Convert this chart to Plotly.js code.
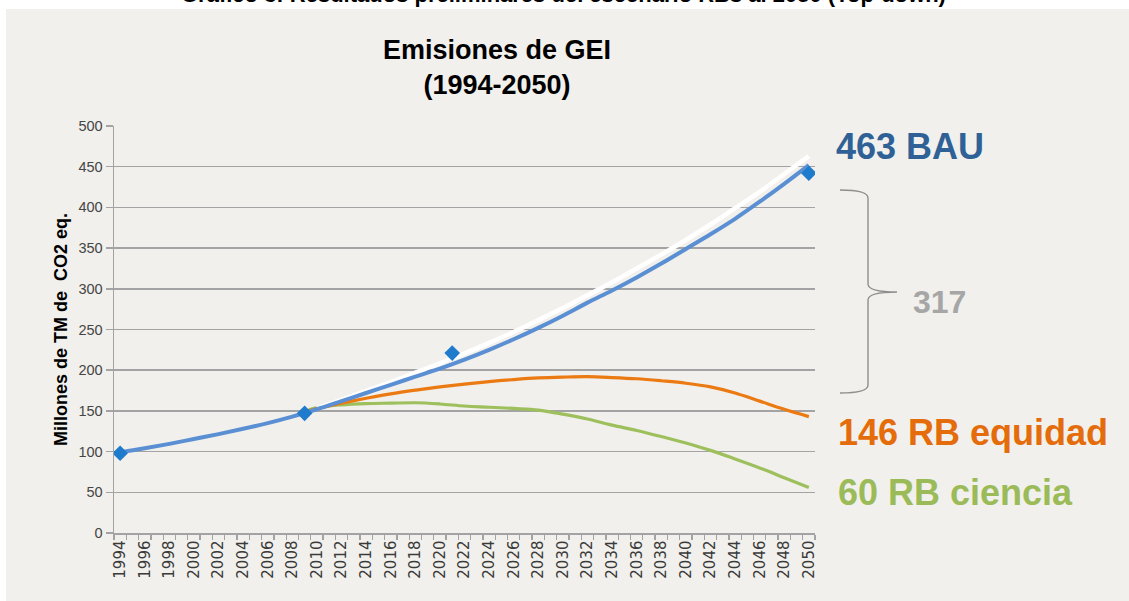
<!DOCTYPE html>
<html>
<head>
<meta charset="utf-8">
<script src="https://cdn.plot.ly/plotly-3.0.1.min.js"></script>
<style>
html,body{margin:0;padding:0;background:#ffffff;}
#chart{width:1129px;height:601px;}
</style>
</head>
<body>
<div id="chart"></div>
<script>
// ---- Data ----
const bauYears = [1994,1996,1998,2000,2002,2004,2006,2008,2010,2012,2014,2016,2018,2020,2022,2024,2026,2028,2030,2032,2034,2036,2038,2040,2042,2044,2046,2048,2050];
const bauValues = [99,104,109.5,115.5,121.5,128,135,143,152,162,172,182,192,202,213,225,238,252,267,283,298,314,331,349,367,386,407,429,452];

const trendYears = [2010,2012,2014,2016,2018,2020,2022,2024,2026,2028,2030,2032,2034,2036,2038,2040,2042,2044,2046,2048,2050];
const trendValues = [153,163.5,174.5,185.5,197,208.5,220.5,233.5,247,261.5,276.5,292,308,325,342,360,379,399,419,441,463];

const scenYears = [2009,2010,2012,2014,2016,2018,2020,2022,2024,2026,2028,2030,2032,2034,2036,2038,2040,2042,2044,2046,2048,2050];
const equidadValues = [149,153,159.5,165.5,171,175.5,179.5,183,186,188.5,190.5,191.5,192,191,189.5,187,184,179.5,172,162,152,143];
const cienciaValues = [149,154,157.5,159,159.5,160,158.5,156,154.5,153,151,146,140,132.5,126,118.5,110.5,101.5,91,80,68,56];

const obsYears = [1994,2009,2021,2050];
const obsValues = [98,147,221,442];

const tickYears = [1994,1996,1998,2000,2002,2004,2006,2008,2010,2012,2014,2016,2018,2020,2022,2024,2026,2028,2030,2032,2034,2036,2038,2040,2042,2044,2046,2048,2050];
const yTicks = [0,50,100,150,200,250,300,350,400,450,500];

const chartTitle = "Emisiones de GEI<br>(1994-2050)";
const yTitle = "Millones de TM de  CO2 eq.";
const topCaption = "Gráfico 3: Resultados preliminares del escenario RBs al 2050 (Top-down)";
const labelBAU = "463 BAU";
const labelGap = "317";
const labelEquidad = "146 RB equidad";
const labelCiencia = "60 RB ciencia";

// ---- Layout geometry ----
const FW = 1129, FH = 601;
const M = {l:114, r:314, t:126, b:68};
const PW = FW - M.l - M.r, PH = FH - M.t - M.b;
const px = x => (x - M.l) / PW;
const py = y => (FH - M.b - y) / PH;

const PANEL = '#f1f0ec';
const GRID = '#a3a3a3';

const traces = [
  {x: scenYears, y: cienciaValues, mode:'lines', line:{color:'#9dbf5c', width:3.2, shape:'spline'}, hoverinfo:'skip'},
  {x: scenYears, y: equidadValues, mode:'lines', line:{color:'#ec7a12', width:3.2, shape:'spline'}, hoverinfo:'skip'},
  {x: trendYears, y: trendValues, mode:'lines', line:{color:'#ffffff', width:4.5, shape:'spline'}, hoverinfo:'skip'},
  {x: bauYears, y: bauValues, mode:'lines', line:{color:'#5b8fd3', width:4, shape:'spline'}, hoverinfo:'skip'},
  {x: obsYears, y: obsValues, mode:'markers', marker:{symbol:'diamond', size:12, color:'#1f7bcb'}, hoverinfo:'skip'}
];

function bracePath(){
  const pts = [
    ['M',840,190],['Q',868,190,868,198],['L',868,284],['Q',868,292,897,292],
    ['Q',868,292,868,300],['L',868,385],['Q',868,393,840,393]
  ];
  return pts.map(p => {
    const c = p[0]; const nums = p.slice(1); const out = [];
    for (let i=0;i<nums.length;i+=2){ out.push(px(nums[i]).toFixed(5)+','+py(nums[i+1]).toFixed(5)); }
    return c + out.join(' ');
  }).join(' ');
}

const layout = {
  width: FW, height: FH,
  margin: M,
  paper_bgcolor: '#ffffff',
  plot_bgcolor: 'rgba(0,0,0,0)',
  showlegend: false,
  title: {
    text: chartTitle,
    font: {family:'Arial, "Liberation Sans", sans-serif', size:27, color:'#000000', weight:'bold'},
    xref:'container', x: 497/FW, xanchor:'center',
    yref:'container', y: 1 - 59/FH, yanchor:'middle'
  },
  xaxis: {
    range:[1993.5, 2050.5],
    tickmode:'array', tickvals: tickYears, ticktext: tickYears.map(String),
    tickangle: -90,
    ticks:'', ticklen:0,
    tickfont:{family:'"DejaVu Sans", Verdana, sans-serif', size:15, color:'#3a3a3a'},
    minor:{tick0:1993.5, dtick:1, ticks:'outside', ticklen:5, tickcolor:GRID, tickwidth:1.3, showgrid:false},
    showgrid:false, zeroline:false,
    showline:true, linecolor:GRID, linewidth:1.5,
    fixedrange:true
  },
  yaxis: {
    range:[0,500],
    tickmode:'array', tickvals:yTicks,
    ticks:'outside', ticklen:7, tickcolor:GRID, tickwidth:1.5,
    tickfont:{family:'Arial, "Liberation Sans", sans-serif', size:14.5, color:'#454545'},
    showgrid:true, gridcolor:GRID, gridwidth:1.5,
    zeroline:false,
    showline:true, linecolor:GRID, linewidth:1.5,
    title:{text:yTitle, font:{family:'Arial, "Liberation Sans", sans-serif', size:18, color:'#000000', weight:'bold'}, standoff:6},
    fixedrange:true
  },
  shapes: [
    {type:'rect', xref:'paper', yref:'paper', x0:px(6), x1:px(1135), y0:py(610), y1:py(9), fillcolor:PANEL, line:{width:0}, layer:'below'},
    {type:'path', xref:'paper', yref:'paper', path: bracePath(), line:{color:'#8e8e8e', width:1.4}}
  ],
  annotations: [
    {text: topCaption, xref:'paper', yref:'paper', x:px(563), y:py(-6), xanchor:'center', yanchor:'middle', showarrow:false,
     font:{family:'Arial, "Liberation Sans", sans-serif', size:22, color:'#000000', weight:'bold'}},
    {text: labelBAU, xref:'paper', yref:'paper', x:px(834), y:py(146), xanchor:'left', yanchor:'middle', showarrow:false,
     font:{family:'Arial, "Liberation Sans", sans-serif', size:36, color:'#2f6096', weight:'bold'}},
    {text: labelGap, xref:'paper', yref:'paper', x:px(911), y:py(302), xanchor:'left', yanchor:'middle', showarrow:false,
     font:{family:'Arial, "Liberation Sans", sans-serif', size:32, color:'#a6a6a6', weight:'bold'}},
    {text: labelEquidad, xref:'paper', yref:'paper', x:px(836), y:py(432), xanchor:'left', yanchor:'middle', showarrow:false,
     font:{family:'Arial, "Liberation Sans", sans-serif', size:36, color:'#e46c0a', weight:'bold'}},
    {text: labelCiencia, xref:'paper', yref:'paper', x:px(836), y:py(492), xanchor:'left', yanchor:'middle', showarrow:false,
     font:{family:'Arial, "Liberation Sans", sans-serif', size:36, color:'#9bbb59', weight:'bold'}}
  ]
};

Plotly.newPlot('chart', traces, layout, {staticPlot:true, displayModeBar:false});
</script>
</body>
</html>
